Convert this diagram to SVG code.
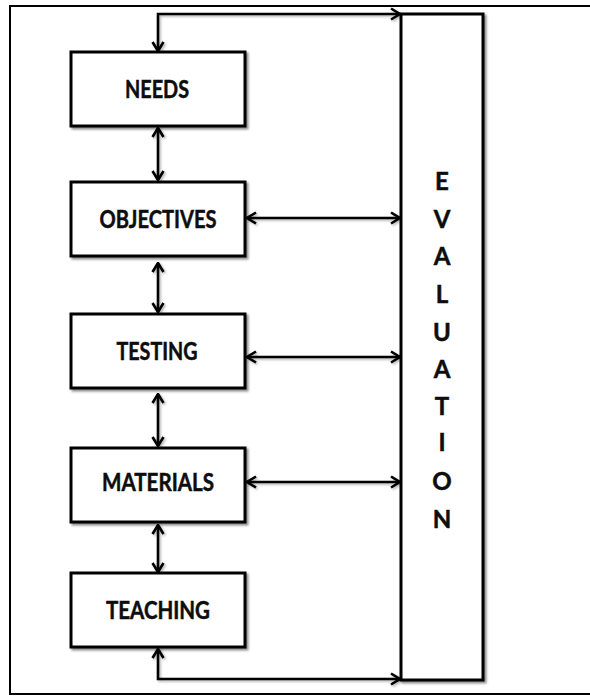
<svg xmlns="http://www.w3.org/2000/svg" width="590" height="696" viewBox="0 0 590 696">
  <style>
    .frame { fill: none; stroke: #000000; stroke-width: 2; }
    .box { fill: #ffffff; stroke: #000000; stroke-width: 3; filter: url(#shade); }
    .label { font-family: "Lato", "Liberation Sans", sans-serif; font-weight: 700; font-size: 24px; fill: #0d0d0d; stroke: #0d0d0d; stroke-width: 0.5; text-anchor: middle; }
    .link { fill: none; stroke: #000000; stroke-width: 2.6; marker-end: url(#tip); filter: url(#shade-light); }
    .both { marker-start: url(#tip); }
  </style>
  <defs>
    <filter id="shade" x="-10%" y="-10%" width="130%" height="130%">
      <feDropShadow dx="2" dy="2" stdDeviation="1.2" flood-color="#000000" flood-opacity="0.45"/>
    </filter>
    <filter id="shade-light" filterUnits="userSpaceOnUse" x="0" y="0" width="590" height="696">
      <feDropShadow dx="1.5" dy="1.5" stdDeviation="1" flood-color="#000000" flood-opacity="0.3"/>
    </filter>
    <marker id="tip" viewBox="0 0 12 14" refX="10.5" refY="7" markerWidth="12" markerHeight="14" markerUnits="userSpaceOnUse" orient="auto-start-reverse">
      <path d="M1.5,1.5 L10.5,7 L1.5,12.5" fill="none" stroke="#000000" stroke-width="2.6" stroke-linejoin="miter"/>
    </marker>
  </defs>

  <rect width="590" height="696" fill="#ffffff"/>
  <!-- outer frame, open on the right where it runs past the page edge -->
  <path class="frame" d="M590,6 L10,6 L10,694 L590,694"/>

  <g id="connectors">
    <!-- loop from evaluation back to needs -->
    <path class="link both" d="M158,51 L158,14 L400,14"/>
    <!-- links down the chain -->
    <path class="link both" d="M158,128 L158,180"/>
    <path class="link both" d="M158,263 L158,312"/>
    <path class="link both" d="M158,394 L158,446"/>
    <path class="link both" d="M158,525 L158,572"/>
    <!-- links to evaluation -->
    <path class="link both" d="M247,218 L400,218"/>
    <path class="link both" d="M247,357 L400,357"/>
    <path class="link both" d="M247,482 L400,482"/>
    <!-- teaching back to evaluation -->
    <path class="link both" d="M158,649 L158,679 L400,679"/>
  </g>

  <g id="needs">
    <rect class="box" x="71" y="52" width="174" height="74"/>
    <text class="label" x="157" y="98" textLength="64" lengthAdjust="spacingAndGlyphs">NEEDS</text>
  </g>
  <g id="objectives">
    <rect class="box" x="71" y="182" width="174" height="74"/>
    <text class="label" x="158" y="228" textLength="117" lengthAdjust="spacingAndGlyphs">OBJECTIVES</text>
  </g>
  <g id="testing">
    <rect class="box" x="71" y="314" width="174" height="74"/>
    <text class="label" x="157" y="360" textLength="81" lengthAdjust="spacingAndGlyphs">TESTING</text>
  </g>
  <g id="materials">
    <rect class="box" x="71" y="448" width="174" height="74"/>
    <text class="label" x="158" y="491" textLength="112" lengthAdjust="spacingAndGlyphs">MATERIALS</text>
  </g>
  <g id="teaching">
    <rect class="box" x="71" y="573" width="174" height="74"/>
    <text class="label" x="158" y="619" textLength="104" lengthAdjust="spacingAndGlyphs">TEACHING</text>
  </g>

  <g id="evaluation">
    <rect class="box" x="401" y="14" width="82" height="666"/>
    <text class="label" x="442" y="190">E</text>
    <text class="label" x="442" y="228">V</text>
    <text class="label" x="442" y="265">A</text>
    <text class="label" x="442" y="303">L</text>
    <text class="label" x="442" y="341">U</text>
    <text class="label" x="442" y="378">A</text>
    <text class="label" x="442" y="415">T</text>
    <text class="label" x="442" y="451">I</text>
    <text class="label" x="442" y="490">O</text>
    <text class="label" x="442" y="528">N</text>
  </g>
</svg>
